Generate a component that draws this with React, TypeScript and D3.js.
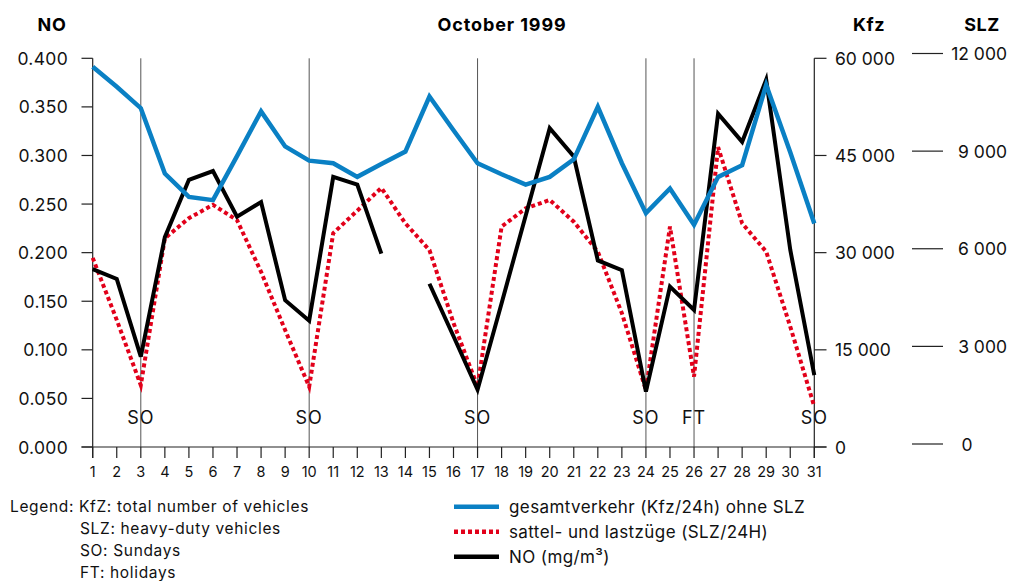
import React from "react";
import * as d3 from "d3";

const days = d3.range(1, 32);
const kfz = [58700, 55600, 52300, 42200, 38600, 38100, 44900, 51800, 46400, 44200, 43800, 41700, 43700, 45600, 54100, 48900, 43800, 42100, 40500, 41700, 44400, 52500, 43800, 36100, 39900, 34300, 41700, 43500, 55900, 45500, 34500];
const slz = [5720, 3810, 1810, 6320, 6940, 7350, 6880, 5290, 3500, 1760, 6480, 7170, 7870, 6780, 5960, 3720, 1760, 6680, 7240, 7500, 6830, 5910, 4020, 1660, 6680, 2070, 9120, 6780, 5910, 3610, 1150];
const no: (number | null)[] = [0.183, 0.173, 0.093, 0.216, 0.275, 0.284, 0.237, 0.252, 0.151, 0.130, 0.278, 0.270, 0.199, null, 0.168, 0.114, 0.059, 0.148, 0.238, 0.328, 0.299, 0.192, 0.182, 0.057, 0.165, 0.141, 0.343, 0.314, 0.378, 0.203, 0.074];
const noTicks = [0, 0.05, 0.1, 0.15, 0.2, 0.25, 0.3, 0.35, 0.4];
const kfzTicks = [0, 15000, 30000, 45000, 60000];
const slzTicks = [0, 3000, 6000, 9000, 12000];
const markers = [
  { day: 3, label: "SO" },
  { day: 10, label: "SO" },
  { day: 17, label: "SO" },
  { day: 24, label: "SO" },
  { day: 26, label: "FT" },
  { day: 31, label: "SO" },
];
const legendNotes = ["Legend: KfZ: total number of vehicles", "SLZ: heavy-duty vehicles", "SO: Sundays", "FT: holidays"];
const seriesNames = ["gesamtverkehr (Kfz/24h) ohne SLZ", "sattel- und lastzüge (SLZ/24H)", "NO (mg/m³)"];

const BLUE = "#0a80c4";
const RED = "#e2001a";
const FONT = "Inter, 'Open Sans', sans-serif";

export default function App() {
  const x = d3.scaleLinear().domain([1, 31]).range([92.7, 814.3]);
  const yNO = d3.scaleLinear().domain([0, 0.4]).range([447, 58.3]);
  const yKfz = d3.scaleLinear().domain([0, 60000]).range([447, 58.3]);
  const ySLZ = d3.scaleLinear().domain([0, 12000]).range([444, 53.5]);
  const fmtNO = d3.format(".3f");
  const fmtThousands = (v: number) => (v === 0 ? "0" : d3.format(",")(v).replace(/,/g, " "));

  const lineKfz = d3.line<number>().x((_, i) => x(days[i])).y((d) => yKfz(d));
  const lineSLZ = d3.line<number>().x((_, i) => x(days[i])).y((d) => ySLZ(d));
  const lineNO = d3
    .line<number | null>()
    .defined((d) => d !== null)
    .x((_, i) => x(days[i]))
    .y((d) => yNO(d as number));

  const axisY = yNO(0);
  const topY = yNO(0.4);

  return (
    <svg
      width={1013}
      height={581}
      style={{ position: "absolute", left: 0, top: 0, background: "#fff" }}
      fontFamily={FONT}
    >
      {/* headers */}
      <text x={52} y={30.5} textAnchor="middle" fontWeight="bold" fontSize={18} letterSpacing={0.6}>NO</text>
      <text x={502} y={30.5} textAnchor="middle" fontWeight="bold" fontSize={18} letterSpacing={0.9}>October 1999</text>
      <text x={869} y={30.5} textAnchor="middle" fontWeight="bold" fontSize={18} letterSpacing={0.6}>Kfz</text>
      <text x={982} y={30.5} textAnchor="middle" fontWeight="bold" fontSize={18} letterSpacing={0.6}>SLZ</text>

      {/* marker vertical lines */}
      {markers
        .filter((m) => m.day !== 31)
        .map((m, i) => (
          <line key={"v" + i} x1={x(m.day)} x2={x(m.day)} y1={topY} y2={axisY} stroke="#555" strokeWidth={1} />
        ))}

      {/* left axis */}
      <line x1={x(1)} x2={x(1)} y1={topY} y2={axisY + 11} stroke="#222" strokeWidth={1.2} />
      {noTicks.map((t, i) => (
        <g key={"ln" + i}>
          <line x1={81.5} x2={x(1)} y1={yNO(t)} y2={yNO(t)} stroke="#222" strokeWidth={1.2} />
          <text x={68} y={yNO(t) + 6.5} textAnchor="end" fontSize={17.5} fill="#111" letterSpacing={0.3}>{fmtNO(t)}</text>
        </g>
      ))}

      {/* x axis */}
      <line x1={81.5} x2={826.5} y1={axisY} y2={axisY} stroke="#222" strokeWidth={1.2} />
      {days.map((d) => (
        <g key={"d" + d}>
          <line x1={x(d)} x2={x(d)} y1={axisY} y2={axisY + 11} stroke="#222" strokeWidth={1.2} />
          <text x={x(d)} y={477} textAnchor="middle" fontSize={14.5} fill="#111">{d}</text>
        </g>
      ))}

      {/* right Kfz axis */}
      <line x1={x(31)} x2={x(31)} y1={topY} y2={axisY + 11} stroke="#222" strokeWidth={1.2} />
      {kfzTicks.map((t, i) => (
        <g key={"k" + i}>
          <line x1={x(31)} x2={826.5} y1={yKfz(t)} y2={yKfz(t)} stroke="#222" strokeWidth={1.2} />
          <text x={835} y={yKfz(t) + 6.5} fontSize={17.5} fill="#111">{fmtThousands(t)}</text>
        </g>
      ))}

      {/* SLZ axis */}
      {slzTicks.map((t, i) => (
        <g key={"s" + i}>
          <line x1={912} x2={943} y1={ySLZ(t)} y2={ySLZ(t)} stroke="#222" strokeWidth={1.2} />
          <text x={t === 0 ? 967 : 1007} y={ySLZ(t) + 6.5} textAnchor={t === 0 ? "middle" : "end"} fontSize={17.5} fill="#111">
            {fmtThousands(t)}
          </text>
        </g>
      ))}

      {/* marker labels */}
      {markers.map((m, i) => (
        <text key={"m" + i} x={x(m.day)} y={423.5} textAnchor="middle" fontSize={18} fill="#111" letterSpacing={1}>{m.label}</text>
      ))}

      {/* series */}
      <path d={lineSLZ(slz) || ""} fill="none" stroke={RED} strokeWidth={4} strokeDasharray="4 3" />
      <path d={lineNO(no) || ""} fill="none" stroke="#000" strokeWidth={4} strokeLinejoin="miter" />
      <path d={lineKfz(kfz) || ""} fill="none" stroke={BLUE} strokeWidth={4.5} strokeLinejoin="miter" />

      {/* legend notes */}
      {legendNotes.map((t, i) => (
        <text key={"n" + i} x={i === 0 ? 10 : 80} y={511.5 + i * 22.2} fontSize={15.5} fill="#111" letterSpacing={0.65}>{t}</text>
      ))}

      {/* series legend */}
      {seriesNames.map((name, i) => {
        const ly = 506.7 + i * 25;
        return (
          <g key={"l" + i}>
            <line
              x1={454}
              x2={499}
              y1={ly}
              y2={ly}
              stroke={i === 0 ? BLUE : i === 1 ? RED : "#000"}
              strokeWidth={4.5}
              strokeDasharray={i === 1 ? "4 3" : undefined}
            />
            <text x={509} y={ly + 6} fontSize={17} fill="#111" letterSpacing={0.4}>{name}</text>
          </g>
        );
      })}
    </svg>
  );
}
